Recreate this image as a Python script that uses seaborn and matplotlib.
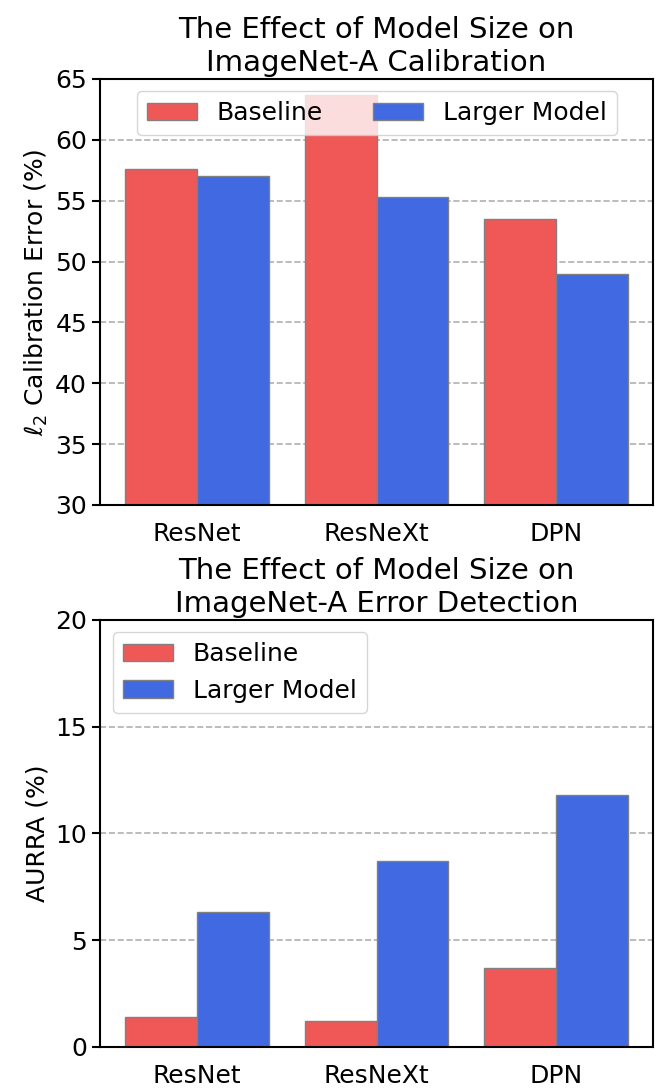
import numpy as np
import pandas as pd
import matplotlib
matplotlib.use('Agg')
import matplotlib.pyplot as plt
import seaborn as sns

models = ['ResNet', 'ResNeXt', 'DPN']
variants = ['Baseline', 'Larger Model']
calib_baseline = [57.6, 63.7, 53.5]
calib_larger = [57.0, 55.3, 49.0]
aurra_baseline = [1.4, 1.2, 3.7]
aurra_larger = [6.3, 8.7, 11.8]

RED = '#F05858'
BLUE = '#4169E1'


def make_frame(base, large):
    return pd.DataFrame({'model': models * 2,
                         'variant': [variants[0]] * 3 + [variants[1]] * 3,
                         'value': list(base) + list(large)})


plt.rcParams['font.family'] = ['DejaVu Sans']
plt.rcParams['axes.axisbelow'] = True

fig = plt.figure(figsize=(6.55, 10.89), dpi=100)
ax1 = fig.add_axes([0.153, 0.5363, 0.844, 0.3912])
ax2 = fig.add_axes([0.153, 0.0386, 0.844, 0.3921])

for ax, df, ylim, yticks in [(ax1, make_frame(calib_baseline, calib_larger), (30, 65), np.arange(30, 66, 5)),
                              (ax2, make_frame(aurra_baseline, aurra_larger), (0, 20), np.arange(0, 21, 5))]:
    sns.barplot(data=df, x='model', y='value', hue='variant', palette=[RED, BLUE],
                width=0.8, saturation=1, edgecolor='gray', linewidth=1, errorbar=None, ax=ax)
    ax.set_ylim(*ylim)
    ax.set_xlim(-0.54, 2.54)
    ax.set_yticks(yticks)
    ax.yaxis.grid(True, linestyle='--', color='#b0b0b0', linewidth=1.2)
    ax.tick_params(axis='x', length=0, pad=12, labelsize=18)
    ax.tick_params(axis='y', labelsize=18, length=6, width=1.5)
    ax.set_xlabel('')
    for s in ax.spines.values():
        s.set_linewidth(1.5)

ax1.set_ylabel(r'$\ell_2$ Calibration Error (%)', fontsize=18)
ax1.set_title('The Effect of Model Size on\nImageNet-A Calibration', fontsize=21)
ax1.legend(loc='upper center', ncol=2, fontsize=18, title=None)

ax2.set_ylabel('AURRA (%)', fontsize=18)
ax2.set_title('The Effect of Model Size on\nImageNet-A Error Detection', fontsize=21)
ax2.legend(loc='upper left', fontsize=18, title=None)

fig.savefig('out.png', dpi=100)
